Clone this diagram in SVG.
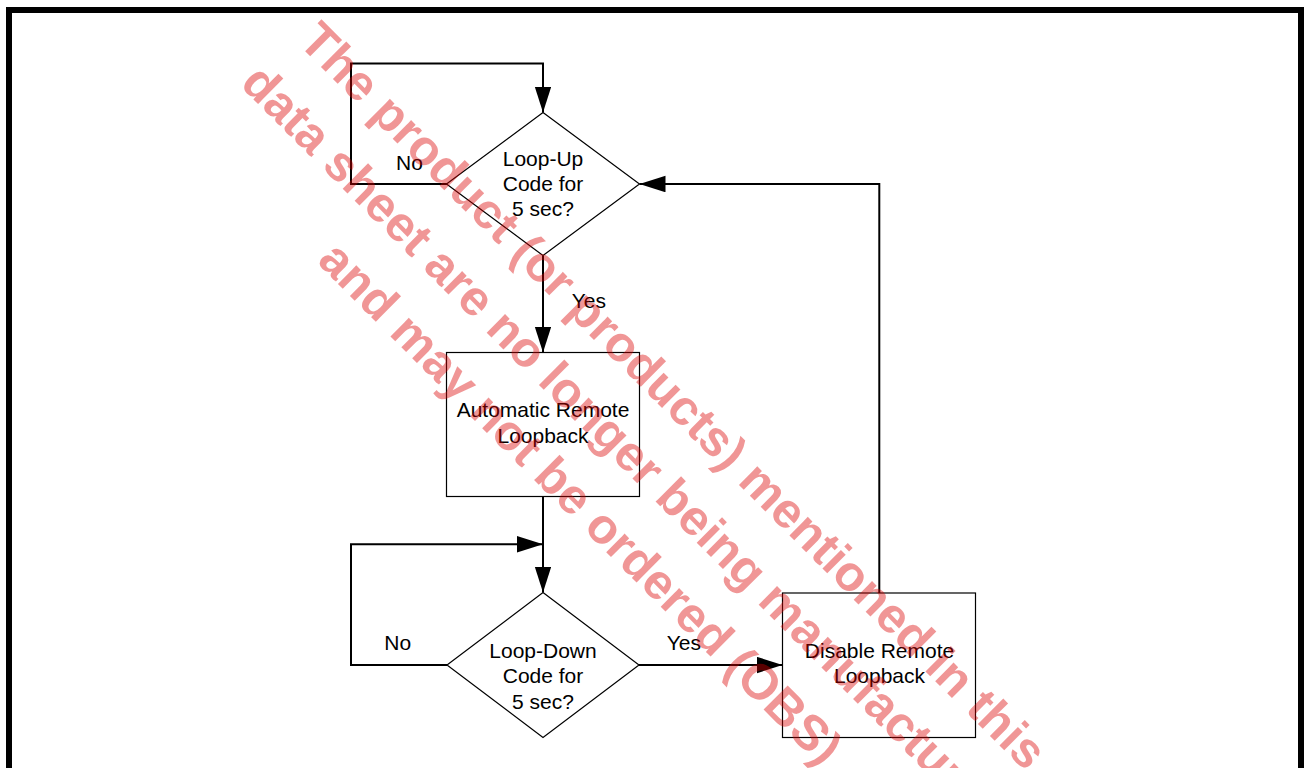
<svg xmlns="http://www.w3.org/2000/svg" width="1304" height="768" viewBox="0 0 1304 768">
<style>
.node{fill:#fff;stroke:#000;stroke-width:1.2}
.conn{fill:none;stroke:#000;stroke-width:2}
.t{font-family:"Liberation Sans",Arial,Helvetica,sans-serif;font-size:21px;fill:#000}
.c{text-anchor:middle}
.wm{font-family:"Liberation Sans",Arial,Helvetica,sans-serif;font-weight:bold;font-size:49.5px;fill:#da0000;fill-opacity:0.41}
</style>
<defs>
<marker id="ah" markerUnits="userSpaceOnUse" markerWidth="27" markerHeight="17" refX="26" refY="8.3" orient="auto">
<path d="M0,0 L26,8.3 L0,16.6 Z" fill="#000"/>
</marker>
</defs>
<rect x="0" y="0" width="1304" height="768" fill="#fff"/>
<rect x="9" y="10" width="1292" height="800" fill="none" stroke="#000" stroke-width="6"/>
<g id="connectors">
<path class="conn" d="M447,184 H351 V63.5 H543 V112.5" marker-end="url(#ah)"/>
<path class="conn" d="M543,255.5 V352.5" marker-end="url(#ah)"/>
<path class="conn" d="M543,496.5 V592.5" marker-end="url(#ah)"/>
<path class="conn" d="M447,665 H351 V544.3 H543" marker-end="url(#ah)"/>
<path class="conn" d="M639,665 H782.5" marker-end="url(#ah)"/>
<path class="conn" d="M879.3,593 V184 H639.5" marker-end="url(#ah)"/>
</g>
<g id="n1">
<polygon class="node" points="543,112.5 639.5,184 543,255.5 446.5,184"/>
<text class="t c" x="543" y="165.7">Loop-Up</text>
<text class="t c" x="543" y="190.7">Code for</text>
<text class="t c" x="543" y="216">5 sec?</text>
</g>
<g id="n2">
<rect class="node" x="446.5" y="352.5" width="193" height="144"/>
<text class="t c" x="543" y="416.7">Automatic Remote</text>
<text class="t c" x="543" y="443.3">Loopback</text>
</g>
<g id="n3">
<polygon class="node" points="543,592.5 639,665 543,737.5 447,665"/>
<text class="t c" x="543" y="658.3">Loop-Down</text>
<text class="t c" x="543" y="683.3">Code for</text>
<text class="t c" x="543" y="709">5 sec?</text>
</g>
<g id="n4">
<rect class="node" x="782.5" y="593" width="193" height="144.5"/>
<text class="t c" x="879.5" y="658">Disable Remote</text>
<text class="t c" x="879.5" y="683.3">Loopback</text>
</g>
<g id="labels">
<text class="t" x="396" y="170">No</text>
<text class="t" x="571.7" y="308.3">Yes</text>
<text class="t" x="384.3" y="650">No</text>
<text class="t" x="666.7" y="650">Yes</text>
</g>
<g id="watermark">
<text class="wm" x="297" y="43" transform="rotate(45 297 43)">The product (or products) mentioned in this</text>
<text class="wm" x="239" y="85" transform="rotate(45 239 85)">data sheet are no longer being manufactured</text>
<text class="wm" x="316" y="262" transform="rotate(45 316 262)">and may not be ordered (OBS)</text>
</g>
</svg>
